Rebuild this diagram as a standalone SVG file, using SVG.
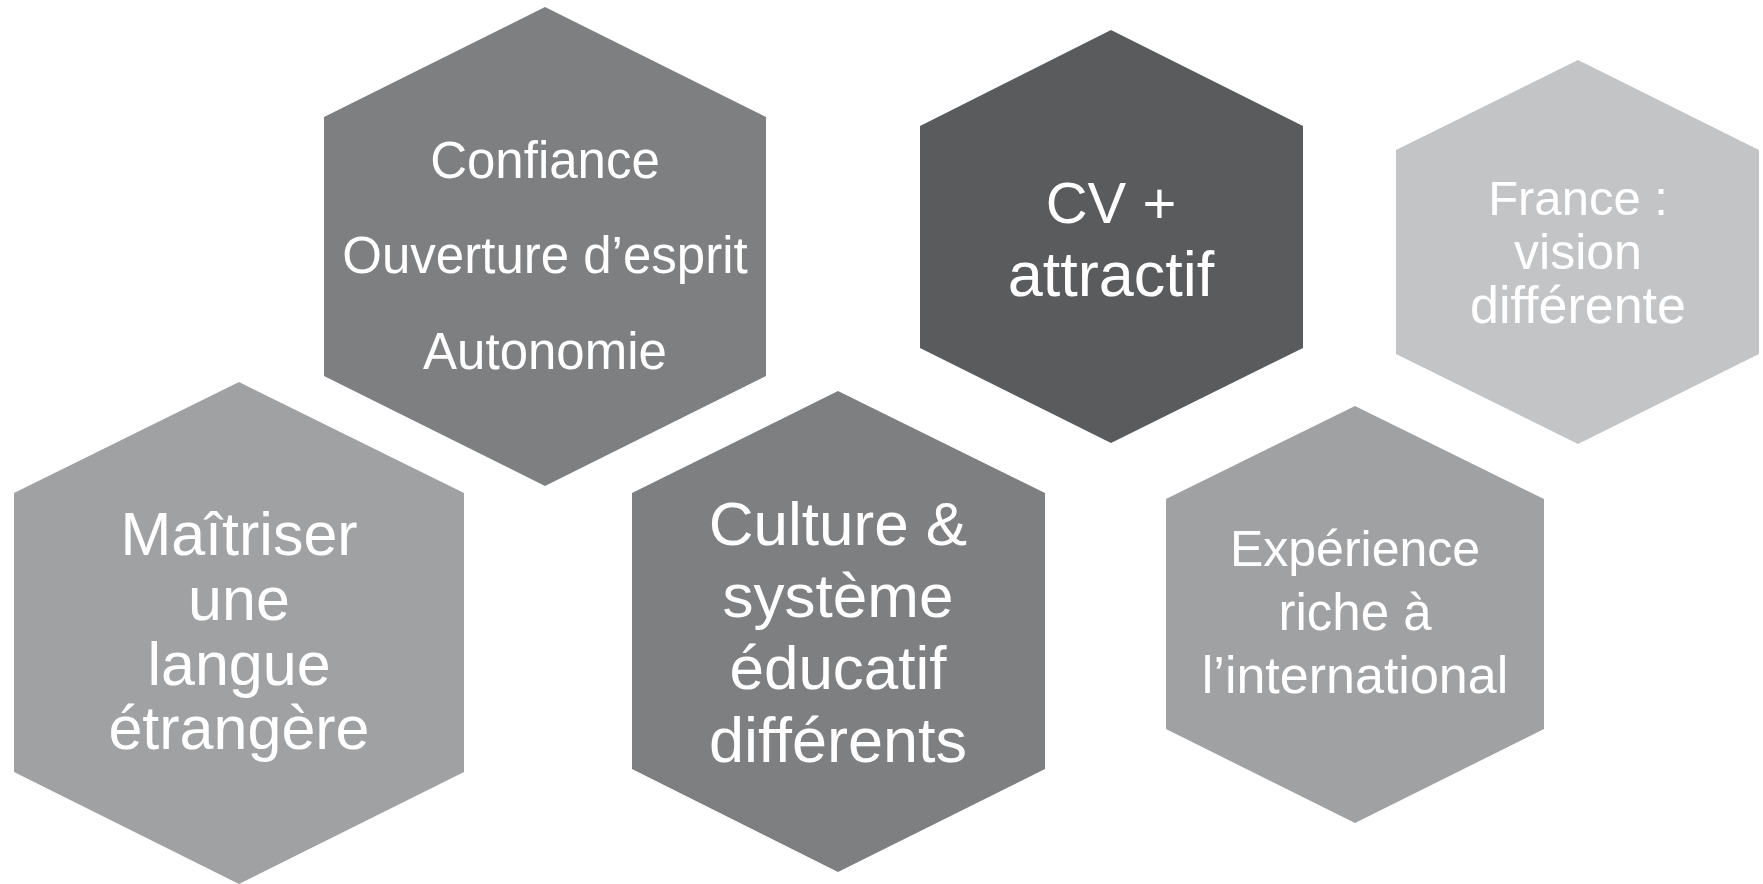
<svg xmlns="http://www.w3.org/2000/svg" width="1763" height="884" viewBox="0 0 1763 884">
<style>
text{font-family:"Liberation Sans",Arial,sans-serif;fill:#ffffff;text-anchor:middle}
.c1{fill:#7e7f81}.c2{fill:#a0a1a3}.c3{fill:#5a5b5d}.c4{fill:#c3c4c6}
</style>
<rect width="1763" height="884" fill="#ffffff"/>
<g id="connectors"></g>
<g id="n-confiance">
<polygon class="c1" points="545,7 766,117 766,376 545,486 324,376 324,117"/>
<text font-size="51" x="545" y="178">Confiance</text>
<text font-size="51" x="545" y="273">Ouverture d’esprit</text>
<text font-size="51" x="545" y="369">Autonomie</text>
</g>
<g id="n-cv">
<polygon class="c3" points="1111,30 1303,126 1303,348 1111,443 920,348 920,126"/>
<text font-size="58" x="1111" y="223">CV +</text>
<text font-size="63" x="1111" y="296">attractif</text>
</g>
<g id="n-france">
<polygon class="c4" points="1578,60 1759,150 1759,354 1578,444 1396,354 1396,150"/>
<text font-size="49" x="1578" y="215">France :</text>
<text font-size="50" x="1578" y="269">vision</text>
<text font-size="52" x="1578" y="323">différente</text>
</g>
<g id="n-maitriser">
<polygon class="c2" points="239,382 464,493 464,772 239,884 14,772 14,493"/>
<text font-size="61" x="239" y="555">Maîtriser</text>
<text font-size="61" x="239" y="620">une</text>
<text font-size="61" x="239" y="685">langue</text>
<text font-size="61" x="239" y="749">étrangère</text>
</g>
<g id="n-culture">
<polygon class="c1" points="838,391 1045,493 1045,769 838,872 632,769 632,493"/>
<text font-size="62" x="838" y="545">Culture &amp;</text>
<text font-size="62" x="838" y="617">système</text>
<text font-size="62" x="838" y="689">éducatif</text>
<text font-size="63" x="838" y="762">différents</text>
</g>
<g id="n-experience">
<polygon class="c2" points="1355,406 1544,499 1544,729 1355,823 1166,729 1166,499"/>
<text font-size="50" x="1355" y="566">Expérience</text>
<text font-size="51" x="1355" y="630">riche à</text>
<text font-size="52" x="1355" y="693">l’international</text>
</g>
</svg>
